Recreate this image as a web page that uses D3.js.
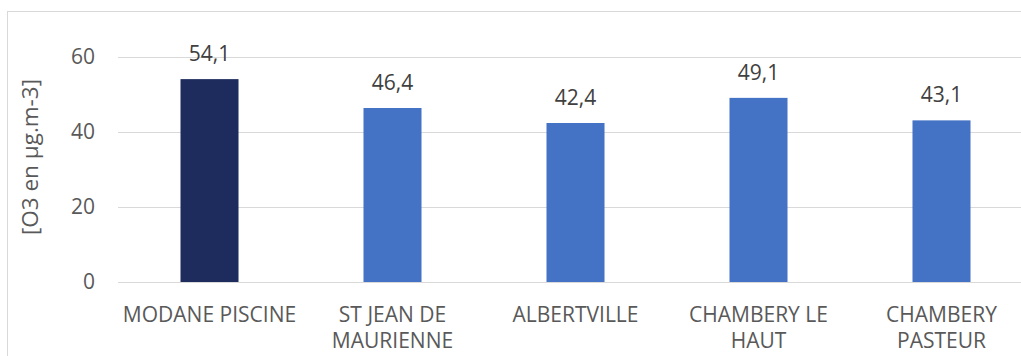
<!DOCTYPE html>
<html>
<head>
<meta charset="utf-8">
<script src="https://cdn.jsdelivr.net/npm/d3@7"></script>
<style>
  html, body { margin: 0; padding: 0; background: #fff; overflow: hidden; }
  svg { display: block; }
  text { font-family: "Open Sans", "Noto Sans", sans-serif; }
</style>
</head>
<body>
<svg id="chart" width="1021" height="356"></svg>
<script>
// Ozone concentration per monitoring station
const stations = ["MODANE PISCINE", "ST JEAN DE MAURIENNE", "ALBERTVILLE", "CHAMBERY LE HAUT", "CHAMBERY PASTEUR"];
const stationLines = [["MODANE PISCINE"], ["ST JEAN DE", "MAURIENNE"], ["ALBERTVILLE"], ["CHAMBERY LE", "HAUT"], ["CHAMBERY", "PASTEUR"]];
const o3Values = [54.1, 46.4, 42.4, 49.1, 43.1];
const barColors = ["#1d2b5d", "#4472c4", "#4472c4", "#4472c4", "#4472c4"];
const yTicks = [0, 20, 40, 60];
const yTitle = "[O3 en µg.m-3]";

const svg = d3.select("#chart");

// chart frame
svg.append("rect")
  .attr("x", 7.5).attr("y", 11.5)
  .attr("width", 1100).attr("height", 400)
  .attr("fill", "none").attr("stroke", "#d9d9d9").attr("stroke-width", 1);

const plot = { left: 118, right: 1033, top: 57, bottom: 282 };

const x = d3.scaleBand().domain(stations).range([plot.left, plot.right]).paddingInner(0.683).paddingOuter(0.3415);
const y = d3.scaleLinear().domain([0, 60]).range([plot.bottom, plot.top]);

// gridlines
svg.append("g").selectAll("line").data(yTicks).join("line")
  .attr("x1", plot.left).attr("x2", plot.right)
  .attr("y1", d => Math.round(y(d)) + 0.5).attr("y2", d => Math.round(y(d)) + 0.5)
  .attr("stroke", "#d9d9d9").attr("stroke-width", 1);

// y axis labels
const yAxis = svg.append("g")
  .attr("transform", `translate(${plot.left - 23},0)`)
  .call(d3.axisLeft(y).tickValues(yTicks).tickSize(0).tickPadding(0));
yAxis.select(".domain").remove();
yAxis.selectAll("text")
  .attr("fill", "#595959").style("font-size", "21px")
  .attr("font-family", "'Open Sans', sans-serif");

// y title
svg.append("text")
  .attr("transform", `translate(38,157) rotate(-90)`)
  .attr("text-anchor", "middle")
  .attr("fill", "#595959").style("font-size", "22.5px")
  .text(yTitle);

// bars
svg.append("g").selectAll("rect").data(stations).join("rect")
  .attr("x", d => x(d)).attr("width", x.bandwidth())
  .attr("y", (d, i) => y(o3Values[i]))
  .attr("height", (d, i) => y(0) - y(o3Values[i]))
  .attr("fill", (d, i) => barColors[i]);

// value labels
const fmt = v => v.toFixed(1).replace(".", ",");
svg.append("g").selectAll("text").data(stations).join("text")
  .attr("x", d => x(d) + x.bandwidth() / 2)
  .attr("y", (d, i) => y(o3Values[i]) - 18)
  .attr("text-anchor", "middle")
  .attr("fill", "#404040").style("font-size", "21px")
  .text((d, i) => fmt(o3Values[i]));

// category labels
const cat = svg.append("g").selectAll("text").data(stations).join("text")
  .attr("x", d => x(d) + x.bandwidth() / 2)
  .attr("y", 322)
  .attr("text-anchor", "middle")
  .attr("fill", "#595959").style("font-size", "21px");
cat.selectAll("tspan").data((d, i) => stationLines[i]).join("tspan")
  .attr("x", function () { return d3.select(this.parentNode).attr("x"); })
  .attr("dy", (d, j) => j === 0 ? 0 : 26)
  .text(d => d);
</script>
</body>
</html>
